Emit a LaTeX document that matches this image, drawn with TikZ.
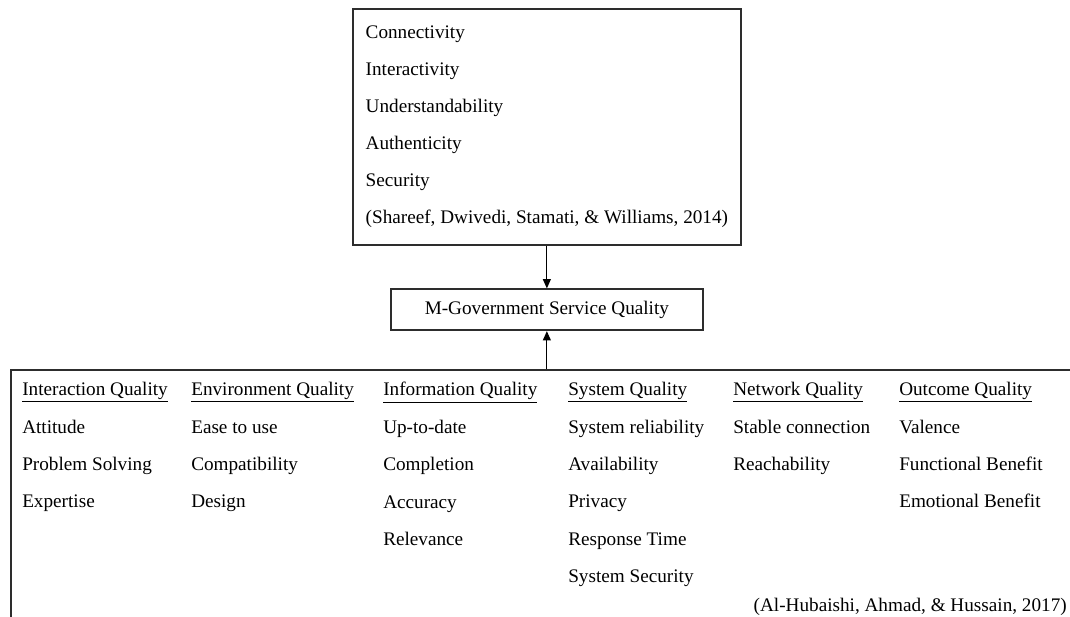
\documentclass[tikz,border=0pt]{standalone}
\usepackage{fontspec}
\setmainfont{Liberation Serif}
\usepackage{tikz}
\usetikzlibrary{arrows.meta,positioning,calc}
\definecolor{frame}{RGB}{45,45,45}
\tikzstyle{arrow} = [line width=0.8pt,-{Triangle[length=7pt,width=6pt]},color=black]
\tikzstyle{box} = [draw=frame, line width=1.3pt, inner sep=0pt]
\tikzstyle{col} = [anchor=north west, inner sep=0pt, align=left, font=\fontsize{14.4}{28.1}\selectfont]

\begin{document}
\begin{tikzpicture}[x=0.75pt,y=-0.75pt]
\useasboundingbox (0,0) rectangle (1070,617);

% Shareef et al. factors
\node[box, minimum width=291pt, minimum height=177pt, anchor=north west, align=left,
      font=\fontsize{14.4}{27.75}\selectfont] (factors) at (352,8) {
Connectivity\\
Interactivity\\
Understandability\\
Authenticity\\
Security\\
(Shareef, Dwivedi, Stamati, \& Williams, 2014)
};

% Central construct
\node[box, below=32pt of factors, minimum width=234pt, minimum height=30.75pt,
      font=\fontsize{14.4}{17}\selectfont] (quality) {M-Government Service Quality};

% Al-Hubaishi et al. dimensions
\node[box, minimum width=802.5pt, minimum height=186.3pt, anchor=north west] (dims) at (10,369) {};

\draw[arrow] (factors) -- (quality);
\draw[arrow] (dims.north -| quality) -- (quality);

% Columns
\node[col] (interaction) at (22,382) {\underline{Interaction Quality}\\Attitude\\Problem Solving\\Expertise};
\node[col] (environment) at (191,382) {\underline{Environment Quality}\\Ease to use\\Compatibility\\Design};
\node[col] (information) at (383,382) {\underline{Information Quality}\\Up-to-date\\Completion\\Accuracy\\Relevance};
\node[col] (system) at (568,382) {\underline{System Quality}\\System reliability\\Availability\\Privacy\\Response Time\\System Security};
\node[col] (network) at (733,382) {\underline{Network Quality}\\Stable connection\\Reachability};
\node[col] (outcome) at (899,382) {\underline{Outcome Quality}\\Valence\\Functional Benefit\\Emotional Benefit};

\node[anchor=base east, inner sep=0pt, font=\fontsize{14.4}{17}\selectfont] (cite) at (1067,611)
  {(Al-Hubaishi, Ahmad, \& Hussain, 2017)};
\end{tikzpicture}
\end{document}
